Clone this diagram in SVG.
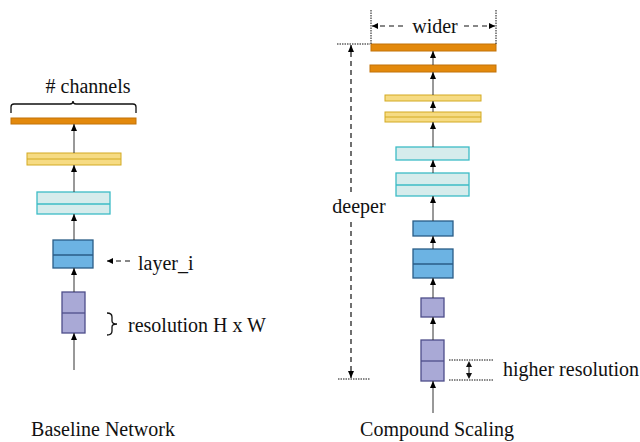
<svg xmlns="http://www.w3.org/2000/svg" width="640" height="442" viewBox="0 0 640 442">
<defs>
<marker id="ah" markerWidth="7" markerHeight="6" refX="7" refY="3" orient="auto" markerUnits="userSpaceOnUse" viewBox="0 0 7 6">
<path d="M0,0 L7,3 L0,6 Z" fill="#000"/>
</marker>
<marker id="ahs" markerWidth="6" markerHeight="6" refX="6" refY="3" orient="auto" markerUnits="userSpaceOnUse" viewBox="0 0 6 6">
<path d="M0,0 L6,3 L0,6 Z" fill="#000"/>
</marker>
<style>
.or{fill:#E3890C;stroke:#C27208;stroke-width:1}
.ye{fill:#F6DB83;stroke:#D3AA22;stroke-width:1}
.cy{fill:#D6ECEC;stroke:#3CBCC6;stroke-width:1.3}
.bl{fill:#6CB3E3;stroke:#2A5D87;stroke-width:1.3}
.pu{fill:#A9A9D6;stroke:#4E4E8A;stroke-width:1.3}
.con{stroke:#333;stroke-width:1;fill:none;marker-end:url(#ah)}
.dash{stroke:#111;stroke-width:1.2;stroke-dasharray:5,4;fill:none}
.dot{stroke:#111;stroke-width:1;stroke-dasharray:1.5,1;fill:none}
.t{font-family:"Liberation Serif","Times New Roman",serif;font-size:20px;fill:#111}
</style>
</defs>
<rect width="640" height="442" fill="#fff"/>

<!-- Left: Baseline network -->
<g id="l-orange"><rect class="or" x="11" y="118" width="125" height="6"/></g>
<g id="l-yellow"><rect class="ye" x="27" y="153" width="94" height="12"/><line class="ye" x1="27" y1="159" x2="121" y2="159"/></g>
<g id="l-cyan"><rect class="cy" x="37" y="192" width="73" height="22"/><line class="cy" x1="37" y1="204" x2="110" y2="204"/></g>
<g id="l-blue"><rect class="bl" x="53" y="240" width="40" height="28"/><line class="bl" x1="53" y1="255" x2="93" y2="255"/></g>
<g id="l-purple"><rect class="pu" x="62" y="292" width="23" height="41"/><line class="pu" x1="62" y1="313" x2="85" y2="313"/></g>

<!-- Right: Compound scaling -->
<g id="r-orange1"><rect class="or" x="371" y="44" width="125" height="7"/></g>
<g id="r-orange2"><rect class="or" x="370" y="65" width="126" height="7"/></g>
<g id="r-yellow1"><rect class="ye" x="385" y="95" width="96" height="6"/></g>
<g id="r-yellow2"><rect class="ye" x="385" y="112" width="96" height="10"/><line class="ye" x1="385" y1="117" x2="481" y2="117"/></g>
<g id="r-cyan1"><rect class="cy" x="396" y="147" width="73" height="13"/></g>
<g id="r-cyan2"><rect class="cy" x="396" y="173" width="73" height="23"/><line class="cy" x1="396" y1="185" x2="469" y2="185"/></g>
<g id="r-blue1"><rect class="bl" x="413" y="221" width="40" height="15"/></g>
<g id="r-blue2"><rect class="bl" x="413" y="249" width="40" height="29"/><line class="bl" x1="413" y1="264" x2="453" y2="264"/></g>
<g id="r-purple1"><rect class="pu" x="421" y="298" width="23" height="19"/></g>
<g id="r-purple2"><rect class="pu" x="421" y="340" width="23" height="41"/><line class="pu" x1="421" y1="361" x2="444" y2="361"/></g>

<g id="connectors">
<line class="con" x1="74" y1="153" x2="74" y2="124"/>
<line class="con" x1="74" y1="192" x2="74" y2="165"/>
<line class="con" x1="74" y1="240" x2="74" y2="214"/>
<line class="con" x1="74" y1="292" x2="74" y2="268"/>
<line class="con" x1="74" y1="370" x2="74" y2="333"/>
<line class="con" x1="433" y1="65" x2="433" y2="51"/>
<line class="con" x1="433" y1="95" x2="433" y2="72"/>
<line class="con" x1="433" y1="112" x2="433" y2="101"/>
<line class="con" x1="433" y1="147" x2="433" y2="122"/>
<line class="con" x1="433" y1="173" x2="433" y2="160"/>
<line class="con" x1="433" y1="221" x2="433" y2="196"/>
<line class="con" x1="433" y1="249" x2="433" y2="236"/>
<line class="con" x1="433" y1="298" x2="433" y2="278"/>
<line class="con" x1="433" y1="340" x2="433" y2="317"/>
<line class="con" x1="433" y1="413" x2="433" y2="381"/>
</g>

<g id="annotations">
<!-- # channels brace -->
<path d="M11,113 L11,107 Q11,104 14,104 L70,104 Q73,104 73,101 Q73,104 76,104 L133,104 Q136,104 136,107 L136,113" fill="none" stroke="#111" stroke-width="1.3"/>
<text class="t" x="88" y="93" text-anchor="middle"># channels</text>
<!-- layer_i -->
<line class="dash" x1="130" y1="261" x2="107" y2="261" stroke-dasharray="3,2" style="marker-end:url(#ahs)"/>
<text class="t" x="138" y="270">layer_i</text>
<!-- resolution brace -->
<path d="M107,313 Q112,313 112,317 L112,321 Q112,324 117,324 Q112,324 112,327 L112,331 Q112,335 107,335" fill="none" stroke="#111" stroke-width="1.3"/>
<text class="t" x="128" y="332">resolution H x W</text>

<!-- wider -->
<line class="dot" x1="371" y1="10" x2="371" y2="44"/>
<line class="dot" x1="496" y1="10" x2="496" y2="44"/>
<line class="dash" x1="403" y1="26" x2="372" y2="26" style="marker-end:url(#ahs)"/>
<line class="dash" x1="464" y1="26" x2="495" y2="26" style="marker-end:url(#ahs)"/>
<text class="t" x="435" y="33" text-anchor="middle">wider</text>

<!-- deeper -->
<line class="dot" x1="337" y1="44" x2="370" y2="44"/>
<line class="dot" x1="338" y1="379" x2="370" y2="379"/>
<line class="dash" x1="351" y1="192" x2="351" y2="45" style="marker-end:url(#ah)"/>
<line class="dash" x1="351" y1="222" x2="351" y2="378" style="marker-end:url(#ah)"/>
<text class="t" x="359" y="213" text-anchor="middle">deeper</text>

<!-- higher resolution -->
<line class="dot" x1="449" y1="360" x2="494" y2="360"/>
<line class="dot" x1="449" y1="380" x2="494" y2="380"/>
<line x1="469" y1="366" x2="469" y2="374" stroke="#111" stroke-width="1"/>
<path d="M466,367 L469,361 L472,367 Z M466,373 L469,379 L472,373 Z" fill="#111"/>
<text class="t" x="503" y="376">higher resolution</text>

<text class="t" x="103" y="436" text-anchor="middle">Baseline Network</text>
<text class="t" x="437" y="436" text-anchor="middle">Compound Scaling</text>
</g>
</svg>
